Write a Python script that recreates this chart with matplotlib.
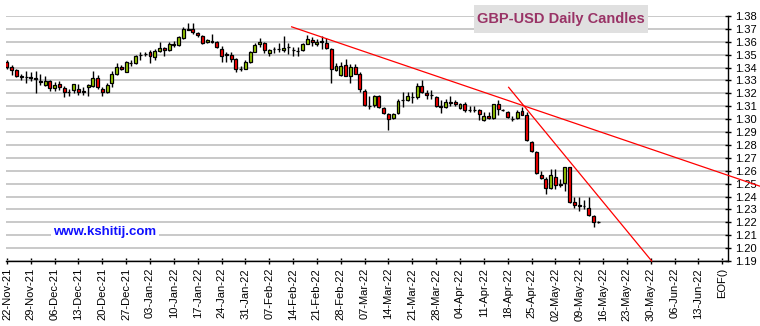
import numpy as np
import matplotlib.pyplot as plt
from matplotlib.patches import Rectangle

plt.rcParams['font.family'] = ['Liberation Sans', 'DejaVu Sans']

# daily OHLC, one row per weekday starting 22-Nov-21
opens = [1.3447, 1.3403, 1.3384, 1.3332, 1.3330, 1.3327, 1.3316, 1.3293, 1.3265, 1.3299,
         1.3242, 1.3270, 1.3244, 1.3213, 1.3226, 1.3236, 1.3216, 1.3247, 1.3257, 1.3322,
         1.3234, 1.3210, 1.3278, 1.3348, 1.3408, 1.3366, 1.3436, 1.3434, 1.3499, 1.3504,
         1.3522, 1.3480, 1.3531, 1.3549, 1.3534, 1.3578, 1.3578, 1.3629, 1.3697, 1.3697,
         1.3669, 1.3643, 1.3596, 1.3604, 1.3596, 1.3544, 1.3503, 1.3498, 1.3464, 1.3392,
         1.3392, 1.3443, 1.3524, 1.3585, 1.3588, 1.3516, 1.3544, 1.3544, 1.3534, 1.3562,
         1.3539, 1.3529, 1.3538, 1.3584, 1.3613, 1.3579, 1.3603, 1.3587, 1.3545, 1.3379,
         1.3342, 1.3420, 1.3332, 1.3407, 1.3347, 1.3220, 1.3105, 1.3108, 1.3181, 1.3084,
         1.3037, 1.3006, 1.3045, 1.3152, 1.3152, 1.3170, 1.3168, 1.3259, 1.3204, 1.3190,
         1.3170, 1.3098, 1.3097, 1.3130, 1.3134, 1.3085, 1.3116, 1.3073, 1.3073, 1.3069,
         1.2994, 1.3025, 1.3010, 1.3118, 1.3073, 1.3053, 1.3005, 1.3010, 1.3061, 1.3030,
         1.2824, 1.2746, 1.2565, 1.2534, 1.2464, 1.2550, 1.2494, 1.2503, 1.2627, 1.2358,
         1.2331, 1.2328, 1.2312, 1.2250, 1.2203]
highs = [1.3462, 1.3418, 1.3392, 1.3351, 1.3371, 1.3364, 1.3377, 1.3351, 1.3338, 1.3305,
         1.3286, 1.3294, 1.3260, 1.3231, 1.3276, 1.3270, 1.3247, 1.3275, 1.3371, 1.3345,
         1.3247, 1.3278, 1.3371, 1.3434, 1.3421, 1.3449, 1.3457, 1.3501, 1.3522, 1.3519,
         1.3540, 1.3542, 1.3596, 1.3557, 1.3596, 1.3609, 1.3648, 1.3717, 1.3743, 1.3743,
         1.3673, 1.3650, 1.3624, 1.3660, 1.3604, 1.3567, 1.3521, 1.3518, 1.3472, 1.3410,
         1.3459, 1.3526, 1.3591, 1.3627, 1.3601, 1.3547, 1.3562, 1.3591, 1.3645, 1.3593,
         1.3562, 1.3557, 1.3593, 1.3649, 1.3639, 1.3618, 1.3644, 1.3631, 1.3551, 1.3436,
         1.3446, 1.3467, 1.3426, 1.3426, 1.3363, 1.3233, 1.3176, 1.3186, 1.3186, 1.3097,
         1.3045, 1.3045, 1.3155, 1.3207, 1.3212, 1.3207, 1.3280, 1.3301, 1.3228, 1.3228,
         1.3176, 1.3150, 1.3155, 1.3176, 1.3149, 1.3128, 1.3131, 1.3105, 1.3103, 1.3082,
         1.3056, 1.3053, 1.3120, 1.3149, 1.3079, 1.3061, 1.3025, 1.3074, 1.3092, 1.3056,
         1.2834, 1.2754, 1.2601, 1.2555, 1.2612, 1.2612, 1.2539, 1.2632, 1.2632, 1.2400,
         1.2400, 1.2374, 1.2395, 1.2260, 1.2214]
lows = [1.3390, 1.3345, 1.3325, 1.3304, 1.3283, 1.3294, 1.3200, 1.3262, 1.3255, 1.3216,
        1.3221, 1.3226, 1.3171, 1.3177, 1.3203, 1.3190, 1.3190, 1.3177, 1.3247, 1.3231,
        1.3177, 1.3203, 1.3247, 1.3345, 1.3379, 1.3364, 1.3416, 1.3429, 1.3457, 1.3491,
        1.3434, 1.3459, 1.3518, 1.3493, 1.3531, 1.3562, 1.3567, 1.3624, 1.3691, 1.3658,
        1.3640, 1.3580, 1.3593, 1.3588, 1.3549, 1.3446, 1.3441, 1.3441, 1.3363, 1.3374,
        1.3387, 1.3438, 1.3524, 1.3557, 1.3511, 1.3493, 1.3511, 1.3524, 1.3524, 1.3503,
        1.3493, 1.3487, 1.3530, 1.3579, 1.3571, 1.3571, 1.3545, 1.3545, 1.3280, 1.3373,
        1.3332, 1.3332, 1.3280, 1.3347, 1.3207, 1.3103, 1.3082, 1.3097, 1.3087, 1.3040,
        1.2915, 1.3001, 1.3040, 1.3092, 1.3144, 1.3126, 1.3160, 1.3202, 1.3157, 1.3160,
        1.3092, 1.3051, 1.3084, 1.3103, 1.3103, 1.3079, 1.3059, 1.3056, 1.3056, 1.2994,
        1.2989, 1.3004, 1.3004, 1.3035, 1.3061, 1.3010, 1.2989, 1.3004, 1.3030, 1.2834,
        1.2746, 1.2575, 1.2534, 1.2418, 1.2462, 1.2459, 1.2477, 1.2446, 1.2353, 1.2312,
        1.2291, 1.2302, 1.2250, 1.2167, 1.2198]
closes = [1.3403, 1.3382, 1.3332, 1.3330, 1.3327, 1.3322, 1.3312, 1.3290, 1.3299, 1.3242,
          1.3268, 1.3250, 1.3210, 1.3211, 1.3273, 1.3210, 1.3214, 1.3265, 1.3322, 1.3247,
          1.3210, 1.3268, 1.3348, 1.3405, 1.3392, 1.3444, 1.3434, 1.3491, 1.3497, 1.3502,
          1.3488, 1.3526, 1.3549, 1.3534, 1.3583, 1.3580, 1.3635, 1.3699, 1.3695, 1.3679,
          1.3650, 1.3593, 1.3614, 1.3602, 1.3557, 1.3492, 1.3500, 1.3464, 1.3387, 1.3389,
          1.3443, 1.3518, 1.3572, 1.3596, 1.3534, 1.3534, 1.3542, 1.3546, 1.3552, 1.3560,
          1.3537, 1.3527, 1.3584, 1.3623, 1.3597, 1.3600, 1.3601, 1.3553, 1.3389, 1.3415,
          1.3415, 1.3337, 1.3407, 1.3353, 1.3233, 1.3108, 1.3101, 1.3176, 1.3092, 1.3048,
          1.3004, 1.3037, 1.3142, 1.3150, 1.3181, 1.3168, 1.3259, 1.3207, 1.3189, 1.3188,
          1.3100, 1.3097, 1.3131, 1.3128, 1.3118, 1.3118, 1.3074, 1.3071, 1.3071, 1.3038,
          1.3025, 1.3010, 1.3118, 1.3077, 1.3071, 1.3020, 1.3003, 1.3053, 1.3035, 1.2839,
          1.2754, 1.2581, 1.2542, 1.2464, 1.2570, 1.2493, 1.2492, 1.2627, 1.2361, 1.2338,
          1.2329, 1.2326, 1.2255, 1.2203, 1.2204]

week_labels = ['22-Nov-21', '29-Nov-21', '06-Dec-21', '13-Dec-21', '20-Dec-21', '27-Dec-21',
               '03-Jan-22', '10-Jan-22', '17-Jan-22', '24-Jan-22', '31-Jan-22', '07-Feb-22',
               '14-Feb-22', '21-Feb-22', '28-Feb-22', '07-Mar-22', '14-Mar-22', '21-Mar-22',
               '28-Mar-22', '04-Apr-22', '11-Apr-22', '18-Apr-22', '25-Apr-22', '02-May-22',
               '09-May-22', '16-May-22', '23-May-22', '30-May-22', '06-Jun-22', '13-Jun-22',
               'EOF()']

# trend lines as (bar index, price) end points
trend_long = [(59.7, 1.3716), (157.9, 1.2480)]
trend_steep = [(105.2, 1.3247), (135.2, 1.19)]

o = np.array(opens)
h = np.array(highs)
l = np.array(lows)
c = np.array(closes)
x = np.arange(len(o))

fig = plt.figure(figsize=(7.6, 3.26), dpi=100)
ax = fig.add_axes([6 / 760, 65 / 326, 722 / 760, 245 / 326])

up = c >= o
body_lo = np.minimum(o, c)
body_h = np.maximum(np.abs(c - o), 0.00015)
ax.vlines(x, l, h, color='black', lw=1, zorder=2)
ax.bar(x, body_h, bottom=body_lo, width=0.62,
       color=np.where(up, '#99cc00', '#ff0000'), edgecolor='black', lw=0.9, zorder=3)

for (x0, y0), (x1, y1) in (trend_long, trend_steep):
    ax.plot([x0, x1], [y0, y1], color='#ff0000', lw=0.9, zorder=4, clip_on=False)

ax.set_xlim(-0.2, 151.2)
ax.set_ylim(1.19, 1.38)
ax.set_yticks(np.round(np.arange(1.19, 1.3801, 0.01), 2))
ax.set_yticklabels([f'{v:.2f}' for v in np.arange(1.19, 1.3801, 0.01)])
ax.set_xticks(np.arange(len(week_labels)) * 5)
ax.set_xticklabels(week_labels, rotation=90)
ax.grid(axis='y', color='#c0c0c0', lw=1.2, zorder=0)
ax.set_axisbelow(True)

for side in ('top', 'left'):
    ax.spines[side].set_visible(False)
ax.spines['right'].set_linewidth(1)
ax.spines['bottom'].set_linewidth(1)
ax.yaxis.tick_right()
ax.tick_params(axis='both', direction='inout', length=4, width=1, labelsize=8, pad=3)

# title box and site tag
fig.patches.append(Rectangle((474 / 760, 1 - 33 / 326), 174 / 760, 28 / 326,
                             transform=fig.transFigure, facecolor='#e0e0e0', edgecolor='none'))
fig.text(561 / 760, 1 - 19 / 326, 'GBP-USD Daily Candles', color='#993366',
         fontsize=10.5, fontweight='bold', ha='center', va='center')
fig.text(105 / 760, 1 - 232 / 326, 'www.kshitij.com', color='#1010ff', fontsize=9.5,
         fontweight='bold', ha='center', va='center',
         bbox=dict(facecolor='white', edgecolor='none', pad=1.5))

fig.savefig('out.png', dpi=100)
